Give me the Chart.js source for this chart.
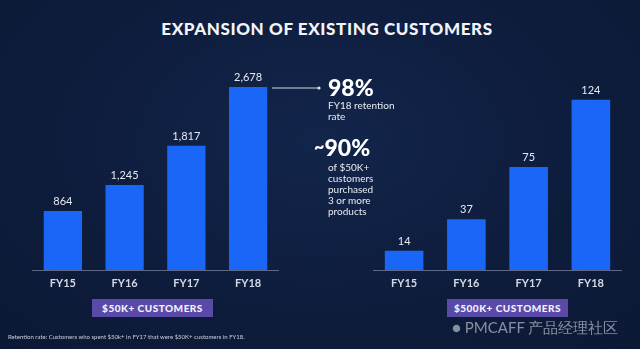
<!DOCTYPE html>
<html><head><meta charset="utf-8">
<script src="https://cdn.jsdelivr.net/npm/chart.js@4.4.0/dist/chart.umd.min.js"></script>
<style>
html,body{margin:0;padding:0;}
body{width:640px;height:349px;overflow:hidden;position:relative;
 background:radial-gradient(ellipse at 50% 40%, #12254a 0%, #0e1c3c 60%, #0c1935 100%);
 font-family:Lato, "Open Sans", sans-serif;color:#fff;}
.abs{position:absolute;}
#title{left:0;width:654px;top:18px;text-align:center;font-weight:900;font-size:17px;letter-spacing:0.6px;color:#f2f4f8;}
.big{font-weight:900;font-size:23px;color:#fff;line-height:1;}
.small{font-size:10px;line-height:11px;color:#e8ebf2;}
.badge{background:#5a4aa8;color:#f4f2ff;font-weight:900;font-size:10px;letter-spacing:0.5px;text-align:center;height:18px;line-height:18px;}
#foot{left:8px;top:333px;font-size:6px;color:#c9cedb;}
#wm{left:452px;top:318px;font-size:15px;color:rgba(200,205,215,0.65);}
</style></head><body>
<div id="title" class="abs">EXPANSION OF EXISTING CUSTOMERS</div>
<div class="abs" style="left:32px;top:60px;width:247px;height:240px;"><canvas id="c1"></canvas></div>
<div class="abs" style="left:373px;top:60px;width:249px;height:240px;"><canvas id="c2"></canvas></div>

<svg class="abs" style="left:0;top:0" width="640" height="349">
 <line x1="272" y1="88" x2="318" y2="88" stroke="#cfd5e2" stroke-width="1"/>
 <circle cx="319" cy="88" r="1.6" fill="#e0e4ee"/>
</svg>
<div class="abs big" style="left:328px;top:76px;">98%</div>
<div class="abs small" style="left:328px;top:100px;">FY18 retention<br>rate</div>
<div class="abs big" style="left:314px;top:136px;"><span style="font-size:18px;vertical-align:3px">~</span>90%</div>
<div class="abs small" style="left:328px;top:162px;">of $50K+<br>customers<br>purchased<br>3 or more<br>products</div>

<div class="abs badge" style="left:92px;top:299px;width:121px;">$50K+ CUSTOMERS</div>
<div class="abs badge" style="left:447px;top:299px;width:121px;">$500K+ CUSTOMERS</div>
<div id="foot" class="abs">Retention rate: Customers who spent $50k+ in FY17 that were $50K+ customers in FY18.</div>
<div id="wm" class="abs">● PMCAFF 产品经理社区</div>

<script>
const categories = ["FY15","FY16","FY17","FY18"];
const customers50k = [864, 1245, 1817, 2678];
const customers500k = [14, 37, 75, 124];
const valueLabels50k = ["864","1,245","1,817","2,678"];
const valueLabels500k = ["14","37","75","124"];

const labelPlugin = {
  id:'vals',
  afterDatasetsDraw(chart){
    const ctx = chart.ctx;
    const meta = chart.getDatasetMeta(0);
    const labels = chart.options.plugins.vals.labels;
    ctx.save();
    ctx.fillStyle = '#e6e9f1';
    ctx.font = '11px Lato, "Open Sans", sans-serif';
    ctx.textAlign = 'center';
    ctx.textBaseline = 'bottom';
    meta.data.forEach((bar,i)=>{ ctx.fillText(labels[i], bar.x, bar.y - 4); });
    ctx.restore();
  }
};

function make(id, data, labels, max){
  new Chart(document.getElementById(id), {
    type:'bar',
    data:{labels:categories, datasets:[{data:data, backgroundColor:'#1a67f7', borderWidth:0,
      barPercentage:0.62, categoryPercentage:1}]},
    options:{
      responsive:true, maintainAspectRatio:false, animation:false,
      layout:{padding:0},
      plugins:{legend:{display:false}, tooltip:{enabled:false}, vals:{labels:labels}},
      scales:{
        y:{display:false, min:0, max:max},
        x:{grid:{display:false, drawTicks:false},
           border:{display:true, color:'#5d6887', width:1},
           ticks:{color:'#d3d8e4', padding:7, font:{size:11, weight:'bold', family:'Lato'}},
           afterFit(s){ s.height = 30; }}
      }
    },
    plugins:[labelPlugin]
  });
}
make('c1', customers50k, valueLabels50k, 3073);
make('c2', customers500k, valueLabels500k, 153);
</script>
</body></html>
